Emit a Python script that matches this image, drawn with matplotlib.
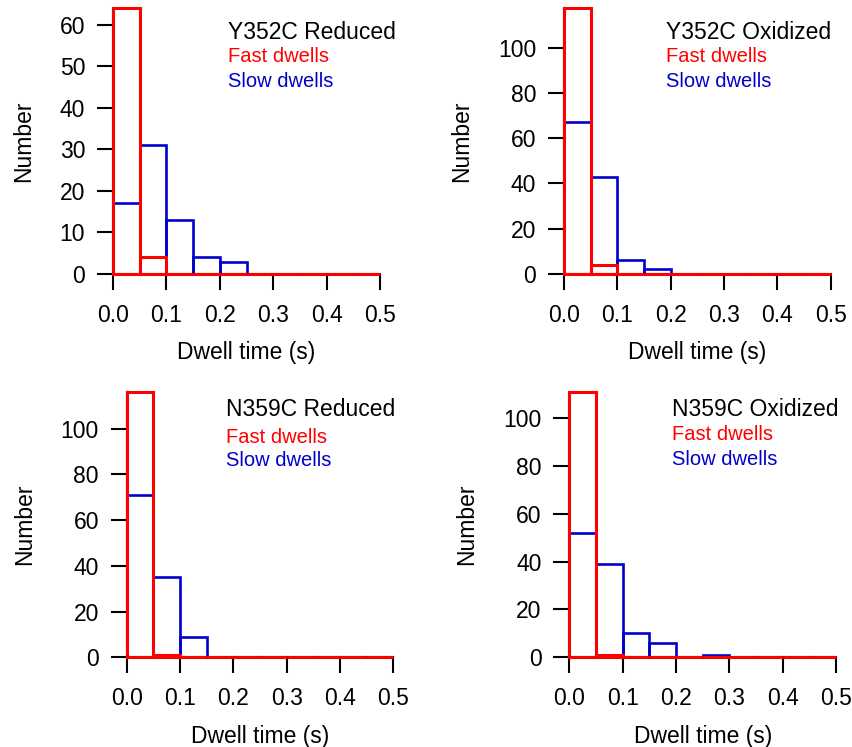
import matplotlib
matplotlib.use("Agg")
import matplotlib.pyplot as plt
import numpy as np

plt.rcParams['font.family'] = ['Liberation Sans', 'DejaVu Sans']

# bin edges (s): 10 bins of 0.05 s
bin_left = [0.00, 0.05, 0.10, 0.15, 0.20, 0.25, 0.30, 0.35, 0.40, 0.45]
bin_width = 0.05

titles = ["Y352C Reduced", "Y352C Oxidized", "N359C Reduced", "N359C Oxidized"]

fast_y352c_red = [64, 4, 0, 0, 0, 0, 0, 0, 0, 0]
slow_y352c_red = [17, 31, 13, 4, 3, 0, 0, 0, 0, 0]

fast_y352c_ox = [117.5, 4, 0, 0, 0, 0, 0, 0, 0, 0]
slow_y352c_ox = [67, 43, 6, 2, 0, 0, 0, 0, 0, 0]

fast_n359c_red = [116, 1, 0, 0, 0, 0, 0, 0, 0, 0]
slow_n359c_red = [71, 35, 9, 0, 0, 0, 0, 0, 0, 0]

fast_n359c_ox = [111, 1, 0, 0, 0, 0, 0, 0, 0, 0]
slow_n359c_ox = [52, 39, 10, 6, 0, 1, 0, 0, 0, 0]

fast_all = [fast_y352c_red, fast_y352c_ox, fast_n359c_red, fast_n359c_ox]
slow_all = [slow_y352c_red, slow_y352c_ox, slow_n359c_red, slow_n359c_ox]
y_ticks = [np.arange(0, 61, 10), np.arange(0, 101, 20),
           np.arange(0, 101, 20), np.arange(0, 101, 20)]

# panel geometry (figure fraction) and text positions (axes fraction)
rects = [[0.1325, 0.6332, 0.313, 0.356],
         [0.6612, 0.6332, 0.3127, 0.356],
         [0.1485, 0.1201, 0.3126, 0.3552],
         [0.6674, 0.1201, 0.3127, 0.3552]]
text_x = [0.431, 0.381, 0.372, 0.386]
text_y = [[0.91, 0.816, 0.722], [0.91, 0.816, 0.722],
          [0.932, 0.829, 0.74], [0.935, 0.838, 0.744]]

red = '#ff0000'
blue = '#0000cc'

fig = plt.figure(figsize=(8.53, 7.47), dpi=100)

for i in range(4):
    ax = fig.add_axes(rects[i])
    ax.bar(bin_left, slow_all[i], width=bin_width, align='edge', fill=False,
           edgecolor=blue, linewidth=1.9, clip_on=False, zorder=3)
    ax.bar(bin_left, fast_all[i], width=bin_width, align='edge', fill=False,
           edgecolor=red, linewidth=2.2, clip_on=False, zorder=4)
    ax.set_xlim(0, 0.5)
    ax.set_ylim(0, max(fast_all[i]))
    ax.set_xticks([0.0, 0.1, 0.2, 0.3, 0.4, 0.5])
    ax.set_xticklabels(['0.0', '0.1', '0.2', '0.3', '0.4', '0.5'])
    ax.set_yticks(y_ticks[i])
    for s in ['top', 'right']:
        ax.spines[s].set_visible(False)
    for s in ['left', 'bottom']:
        ax.spines[s].set_linewidth(1.5)
    ax.tick_params(axis='both', direction='out', length=11.5, width=1.5,
                   labelsize=16.5)
    ax.tick_params(axis='x', pad=10)
    ax.tick_params(axis='y', pad=8.5)
    ax.set_xlabel("Dwell time (s)", fontsize=16.5, labelpad=10.5)
    ax.set_ylabel("Number", fontsize=16.5, labelpad=18)
    ax.text(text_x[i], text_y[i][0], titles[i], transform=ax.transAxes,
            fontsize=16.5, color='black', va='center', ha='left')
    ax.text(text_x[i], text_y[i][1], "Fast dwells", transform=ax.transAxes,
            fontsize=14.5, color=red, va='center', ha='left')
    ax.text(text_x[i], text_y[i][2], "Slow dwells", transform=ax.transAxes,
            fontsize=14.5, color=blue, va='center', ha='left')

fig.savefig("out.png", dpi=100)
